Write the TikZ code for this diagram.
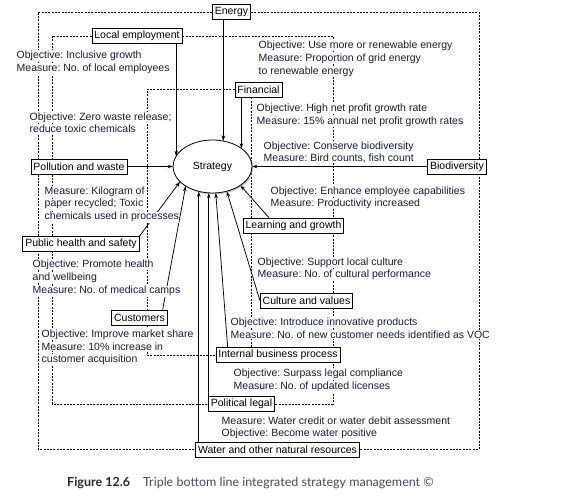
\documentclass[tikz,border=0pt]{standalone}
\usepackage{fontspec}
\setmainfont{Liberation Sans}
\newfontfamily\capfont{Lato}
\usetikzlibrary{shapes.geometric,arrows.meta,shadows}
\definecolor{annc}{RGB}{28,28,52}
\definecolor{capc}{RGB}{75,75,95}
\definecolor{capb}{RGB}{40,40,55}
\pgfdeclarelayer{bg}
\pgfsetlayers{bg,main}
\frenchspacing
\begin{document}
\begin{tikzpicture}[x=1pt,y=-1pt,
  box/.style={draw, line width=0.8pt, fill=white, inner xsep=2.4pt, inner ysep=0pt, minimum height=15pt, font=\fontsize{10.5}{13}\selectfont},
  ann/.style={anchor=base west, fill=white, inner xsep=0.5pt, inner ysep=0.6pt, text=annc, font=\fontsize{10.5}{13}\selectfont},
  dsh/.style={line width=0.75pt, dash pattern=on 2pt off 1.3pt},
  arr/.style={line width=0.75pt, -{Stealth[length=5.5pt,width=3.6pt]}}
]
\useasboundingbox (0,0) rectangle (579,497);

% strategy ellipse
\node[ellipse, draw, line width=0.8pt, fill=white, minimum width=79pt, minimum height=53pt, inner sep=0pt, outer sep=0pt,
  drop shadow={shadow xshift=1.2pt, shadow yshift=-1.3pt, fill=black!45},
  font=\fontsize{10.5}{13}\selectfont] (strategy) at (212.5,166.5) {Strategy};

% boxes
\node[box] (energy) at (231.5,12) {Energy};
\node[box] (locemp) at (137,36) {Local employment};
\node[box] (financial) at (258.5,89.5) {Financial};
\node[box] (pollution) at (79,166.5) {Pollution and waste};
\node[box] (biodiv) at (457,166.5) {Biodiversity};
\node[box] (learning) at (293.5,225.5) {Learning and growth};
\node[box] (publich) at (81,244) {Public health and safety};
\node[box] (culture) at (306.5,300.5) {Culture and values};
\node[box] (customers) at (139.5,317.5) {Customers};
\node[box] (internal) at (278,355) {Internal business process};
\node[box] (politic) at (241.5,404) {Political legal};
\node[box] (water) at (277.5,449.5) {Water and other natural resources};

% routing coordinates
\coordinate (oL) at (38,250);
\coordinate (oR) at (479,250);
\coordinate (lL) at (52,250);
\coordinate (lR) at (333,250);
\coordinate (fL) at (147,250);
\coordinate (fR) at (251,250);

\begin{pgfonlayer}{bg}
  % dashed loops
  \draw[dsh] (energy) -| (oL) |- (water);
  \draw[dsh] (energy) -| (oR) |- (water);
  \draw[dsh] (locemp) -| (lL) |- (politic);
  \draw[dsh] (locemp) -| (lR) |- (politic);
  \draw[dsh] (financial) -| (fL) |- (internal);
  \draw[dsh] (financial.south -| fR) -- (internal.north -| fR);
  % solid arrows into strategy
  \draw[arr] (locemp.south -| strategy.164.5) -- (strategy.164.5);
  \draw[arr] (energy.south -| strategy.67.65) -- (strategy.67.65);
  \draw[arr] (financial.south -| strategy.32.8) -- (strategy.32.8);
  \draw[arr] (pollution.east) -- (strategy.west);
  \draw[arr] (biodiv.west) -- (strategy.east);
  \draw[arr] ([xshift=26pt]learning.north west) -- (strategy.-34.6);
  \draw[arr] (publich.north east) -- (strategy.205);
  \draw[arr] ([xshift=-5pt]customers.north east) -- (strategy.216.5);
  \draw[arr] (water.north -| strategy.241.5) -- (strategy.241.5);
  \draw[arr] (politic.north -| strategy.262.4) -- (strategy.262.4);
  \draw[arr] ([xshift=12pt]internal.north west) -- (strategy.277.6);
  \draw[arr] (culture.west) -- (strategy.300.5);
\end{pgfonlayer}

% annotations
\node[ann] (t1a) at (16,58.5) {Objective: Inclusive growth};
\node[ann] (t1b) at (16,71.5) {Measure: No. of local employees};
\node[ann] (t2a) at (29,120.5) {Objective: Zero waste release;};
\node[ann] (t2b) at (29,133) {reduce toxic chemicals};
\node[ann] (t3a) at (258,48.5) {Objective: Use more or renewable energy};
\node[ann] (t3b) at (258,61.5) {Measure: Proportion of grid energy};
\node[ann] (t3c) at (258,74.5) {to renewable energy};
\node[ann] (t4a) at (256,111.5) {Objective: High net profit growth rate};
\node[ann] (t4b) at (256,124.5) {Measure: 15\% annual net profit growth rates};
\node[ann] (t5a) at (263,149.5) {Objective: Conserve biodiversity};
\node[ann] (t5b) at (263,161.5) {Measure: Bird counts, fish count};
\node[ann] (t6a) at (270,194.5) {Objective: Enhance employee capabilities};
\node[ann] (t6b) at (270,206.5) {Measure: Productivity increased};
\node[ann] (t7a) at (44,194.5) {Measure: Kilogram of};
\node[ann] (t7b) at (44,207) {paper recycled; Toxic};
\node[ann] (t7c) at (44,220) {chemicals used in processes};
\node[ann] (t8a) at (32,267.5) {Objective: Promote health};
\node[ann] (t8b) at (32,280.5) {and wellbeing};
\node[ann] (t8c) at (32,294) {Measure: No. of medical camps};
\node[ann] (t9a) at (257,265.5) {Objective: Support local culture};
\node[ann] (t9b) at (257,277.5) {Measure: No. of cultural performance};
\node[ann] (t10a) at (230,325.5) {Objective: Introduce innovative products};
\node[ann] (t10b) at (230,338.5) {Measure: No. of new customer needs identified as VOC};
\node[ann] (t11a) at (41,337.5) {Objective: Improve market share};
\node[ann] (t11b) at (41,350.5) {Measure: 10\% increase in};
\node[ann] (t11c) at (41,362.5) {customer acquisition};
\node[ann] (t12a) at (233,376.5) {Objective: Surpass legal compliance};
\node[ann] (t12b) at (233,389.5) {Measure: No. of updated licenses};
\node[ann] (t13a) at (221,424.5) {Measure: Water credit or water debit assessment};
\node[ann] (t13b) at (221,436.5) {Objective: Become water positive};

% caption
\node[anchor=base west, inner sep=0pt, text=capb, font=\capfont\bfseries\fontsize{12.5}{14}\selectfont] (fig) at (67,486) {Figure 12.6};
\node[anchor=base west, inner sep=0pt, text=capc, font=\capfont\fontsize{12.5}{14}\selectfont] (capt) at (143,486) {Triple bottom line integrated strategy management ©};
\end{tikzpicture}
\end{document}
